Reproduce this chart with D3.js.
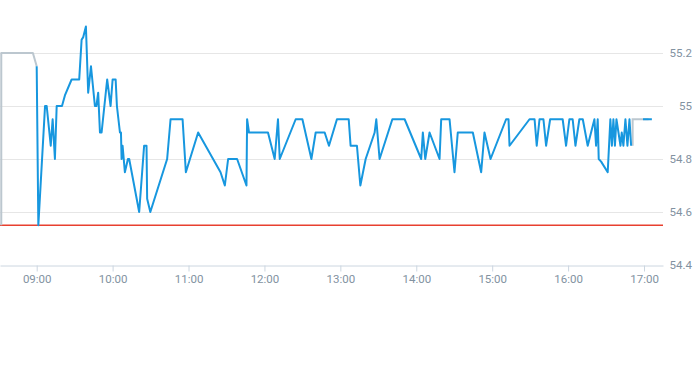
<!DOCTYPE html>
<html>
<head>
<meta charset="utf-8">
<script src="https://cdn.jsdelivr.net/npm/d3@7"></script>
<style>
  html, body { margin: 0; padding: 0; background: #fff; }
  svg { display: block; }
  text { font-family: Roboto, "Liberation Sans", Arial, sans-serif; }
</style>
</head>
<body>
<svg id="chart" width="693" height="365"></svg>
<script>
// ---- data (minutes after 09:00, price) ----
const sessionTimes = [0,1.3,6.6,7.9,11.1,12.6,14.4,15.8,20,22.3,27.6,33.6,35.5,36.8,38.9,40.7,42.9,46,47.2,48.6,50,51.3,55.7,58.4,60,62.4,63.4,65.8,66.6,67.1,67.9,69.7,72.1,73.1,81,84.9,86.8,87.3,89.8,103.1,105.8,115.3,117.9,127.6,145.3,148.7,151.3,158.4,165.8,166.3,167.8,182.8,188.1,190.7,192.1,204.7,210,217.1,220.5,227.6,231,237.3,246.6,248.1,253.1,255.8,260,267.1,268.4,271,281.1,290.8,303.9,305.2,307.1,310.5,318.4,319.7,326.3,330.2,332.8,344.7,351.3,353.9,358.7,371,372.9,373.7,389.5,393.5,395.2,397.4,400.5,402.6,405.8,415.7,418.4,421,423.6,425.8,428.9,431.6,435.5,440.8,442.1,443.4,444.2,446.1,451.3,453.4,454.6,455.8,457,458.2,459.8,461.4,462.4,463.7,465.3,466.9,468.5,469.8];
const sessionPrices = [55.15,54.55,55.0,55.0,54.85,54.95,54.8,55.0,55.0,55.04,55.1,55.1,55.25,55.26,55.3,55.05,55.15,55.0,55.0,55.05,54.9,54.9,55.1,55.0,55.1,55.1,55.0,54.9,54.9,54.8,54.85,54.75,54.8,54.8,54.6,54.85,54.85,54.65,54.6,54.8,54.95,54.95,54.75,54.9,54.75,54.7,54.8,54.8,54.7,54.95,54.9,54.9,54.8,54.95,54.8,54.95,54.95,54.8,54.9,54.9,54.85,54.95,54.95,54.85,54.85,54.7,54.8,54.9,54.95,54.8,54.95,54.95,54.8,54.9,54.8,54.9,54.8,54.95,54.95,54.75,54.9,54.9,54.75,54.9,54.8,54.95,54.95,54.85,54.95,54.95,54.85,54.95,54.95,54.85,54.95,54.95,54.85,54.95,54.95,54.85,54.95,54.95,54.85,54.95,54.85,54.95,54.8,54.79,54.75,54.95,54.85,54.95,54.85,54.95,54.9,54.85,54.9,54.85,54.95,54.85,54.95,54.85];
const preTimes = [-28, -28, -3, 0];
const prePrices = [54.55, 55.2, 55.2, 55.15];
const postTimes = [471, 471, 483.6];
const postPrices = [54.85, 54.95, 54.95];
const tailTimes = [479.2, 486.2];
const tailPrices = [54.95, 54.95];
const prevClose = 54.55;
const yTicks = [54.4, 54.6, 54.8, 55.0, 55.2];
const xTickLabels = ["09:00","10:00","11:00","12:00","13:00","14:00","15:00","16:00","17:00"];

// ---- scales ----
const base = new Date(2024, 0, 2, 9, 0, 0);
const toDate = m => new Date(base.getTime() + m * 60000);
const plotLeft = 0, plotRight = 663, plotTop = 53, plotBottom = 265;

const x = d3.scaleTime()
  .domain([toDate(-29), toDate(495)])
  .range([plotLeft, plotRight]);
const y = d3.scaleLinear()
  .domain([54.4, 55.2])
  .range([plotBottom, plotTop]);

const svg = d3.select("#chart");

// grid lines
svg.append("g").selectAll("line")
  .data(yTicks.filter(d => d > 54.4))
  .join("line")
  .attr("x1", plotLeft).attr("x2", plotRight)
  .attr("y1", d => Math.round(y(d)) + 0.5).attr("y2", d => Math.round(y(d)) + 0.5)
  .attr("stroke", "#e6e6e6").attr("stroke-width", 1);

// x axis
const xTickDates = xTickLabels.map(s => {
  const [h, mm] = s.split(":").map(Number);
  return new Date(2024, 0, 2, h, mm, 0);
});
const xAxis = d3.axisBottom(x)
  .tickValues(xTickDates)
  .tickFormat(d3.timeFormat("%H:%M"))
  .tickSize(6)
  .tickSizeOuter(0);
const gx = svg.append("g")
  .attr("transform", `translate(0,${Math.round(y(54.4)) + 0.5})`)
  .call(xAxis);
gx.select(".domain").attr("stroke", "#ccd6e0");
gx.selectAll(".tick line").attr("stroke", "#ccd6e0");
gx.selectAll(".tick text")
  .attr("fill", "#8292a1")
  .attr("font-size", 11.5)
  .attr("dy", "0.9em")
  .attr("y", 7);

// y axis labels (right)
const yAxis = d3.axisRight(y)
  .tickValues(yTicks)
  .tickFormat(d => String(+d.toFixed(1)))
  .tickSize(0);
const gy = svg.append("g")
  .attr("transform", `translate(692,0)`)
  .call(yAxis);
gy.select(".domain").remove();
gy.selectAll(".tick text")
  .attr("fill", "#8292a1")
  .attr("font-size", 11.5)
  .attr("text-anchor", "end")
  .attr("x", 0);

// previous close line
svg.append("line")
  .attr("x1", plotLeft).attr("x2", plotRight)
  .attr("y1", y(prevClose)).attr("y2", y(prevClose))
  .attr("stroke", "#e8402f").attr("stroke-width", 1.3);

const line = d3.line()
  .x(d => x(toDate(d[0])))
  .y(d => y(d[1]));

const zip = (t, p) => t.map((v, i) => [v, p[i]]);

// pre-market (grey)
svg.append("path")
  .datum(zip(preTimes, prePrices))
  .attr("d", line)
  .attr("fill", "none")
  .attr("stroke", "#bcc7cf")
  .attr("stroke-width", 2)
  .attr("stroke-linejoin", "round");

// post (grey)
svg.append("path")
  .datum(zip(postTimes, postPrices))
  .attr("d", line)
  .attr("fill", "none")
  .attr("stroke", "#bcc7cf")
  .attr("stroke-width", 2);

// tail (blue)
svg.append("path")
  .datum(zip(tailTimes, tailPrices))
  .attr("d", line)
  .attr("fill", "none")
  .attr("stroke", "#1797df")
  .attr("stroke-width", 2);

// session (blue)
svg.append("path")
  .datum(zip(sessionTimes, sessionPrices))
  .attr("d", line)
  .attr("fill", "none")
  .attr("stroke", "#1797df")
  .attr("stroke-width", 2)
  .attr("stroke-linejoin", "round");
</script>
</body>
</html>
